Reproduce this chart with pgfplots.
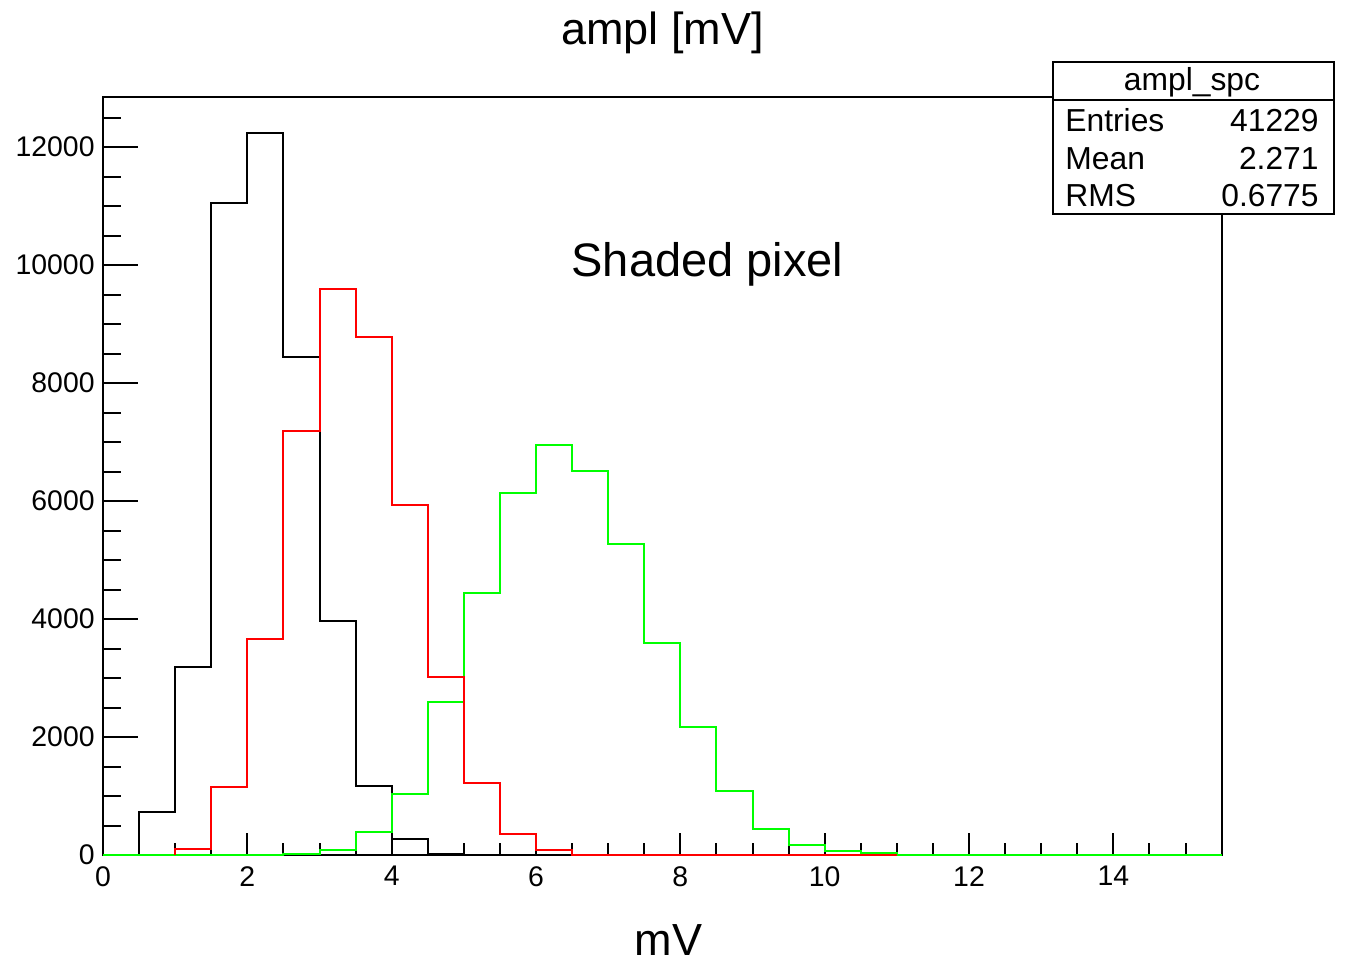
\documentclass[border=0pt]{standalone}
\usepackage{pgfplots}
\pgfplotsset{compat=1.18}
\usepackage{fontspec}
\setmainfont{Liberation Sans}
\definecolor{rootgreen}{RGB}{0,255,0}
\definecolor{rootred}{RGB}{255,0,0}
\begin{document}
\begin{tikzpicture}
\pgfplotsset{
  rootaxis/.style={
    scale only axis, width=559.3pt, height=379pt,
    xmin=0, xmax=15.5, ymin=0, ymax=12850,
    axis line style={line width=1pt, black},
    tick style={line width=1pt, black},
    tick align=inside,
    scaled ticks=false,
    /pgf/number format/1000 sep={},
    /pgf/number format/assume math mode=true,
    ticklabel style={font=\fontsize{14.2}{16}\selectfont},
  }
}
% axis 1: frame + y ticks
\begin{axis}[rootaxis,
  xtick=\empty,
  ytick={0,2000,...,12000},
  minor ytick={500,1000,...,12500},
  ytick pos=left,
  major tick length=17.5pt, minor tick length=9pt,
  yticklabel style={inner sep=0pt, xshift=-4pt},
]
\end{axis}
% axis 2: frame + x ticks + histograms
\begin{axis}[rootaxis,
  ytick=\empty,
  xtick={0,2,...,14},
  minor xtick={0.5,1,...,15},
  xtick pos=bottom,
  major tick length=11pt, minor tick length=6pt,
  xticklabel style={inner sep=0pt, yshift=-5.5pt},
  clip=false,
]
\addplot[const plot, black, line width=1pt, mark=none] coordinates {
(0,0) (0.5,734) (1,3181) (1.5,11046) (2,12232) (2.5,8436) (3,3961) (3.5,1175) (4,263) (4.5,25) (5,0) (15.5,0)};
\addplot[const plot, rootgreen, line width=1pt, mark=none] coordinates {
(0,0) (2.5,15) (3,85) (3.5,390) (4,1039) (4.5,2593) (5,4435) (5.5,6131) (6,6949) (6.5,6503) (7,5276) (7.5,3588) (8,2164) (8.5,1085) (9,441) (9.5,170) (10,65) (10.5,35) (11,0) (15.5,0)};
\addplot[const plot, rootred, line width=1pt, mark=none] coordinates {
(1,0) (1,97) (1.5,1147) (2,3656) (2.5,7186) (3,9588) (3.5,8775) (4,5927) (4.5,3012) (5,1215) (5.5,356) (6,85) (6.5,0) (11,0)};
\end{axis}
\pgfresetboundingbox
\begin{scope}[shift={(current axis.north west)}, xshift=-51.5pt, yshift=48.5pt, x=0.5pt, y=-0.5pt]
\path[use as bounding box] (0,0) rectangle (1347,969);
\node[anchor=base, inner sep=0pt, font=\fontsize{22.5}{26}\selectfont] at (662.5,45) {ampl [mV]};
\node[anchor=base, inner sep=0pt, font=\fontsize{23.5}{27}\selectfont] at (707.5,277) {Shaded pixel};
\node[anchor=base, inner sep=0pt, font=\fontsize{22.5}{26}\selectfont] at (668.5,955) {mV};
\draw[line width=0.75pt, fill=white] (1053,62) rectangle (1334,214);
\draw[line width=0.75pt] (1053,100) -- (1334,100);
\begin{scope}[every node/.style={inner sep=0pt, font=\fontsize{15.9}{18}\selectfont}]
\node[anchor=base] at (1192,91) {ampl\_spc};
\node[anchor=base west] at (1065,132) {Entries};
\node[anchor=base east] at (1319,132) {41229};
\node[anchor=base west] at (1065,170) {Mean};
\node[anchor=base east] at (1319,170) {2.271};
\node[anchor=base west] at (1065,207) {RMS};
\node[anchor=base east] at (1319,207) {0.6775};
\end{scope}
\end{scope}
\end{tikzpicture}
\end{document}
